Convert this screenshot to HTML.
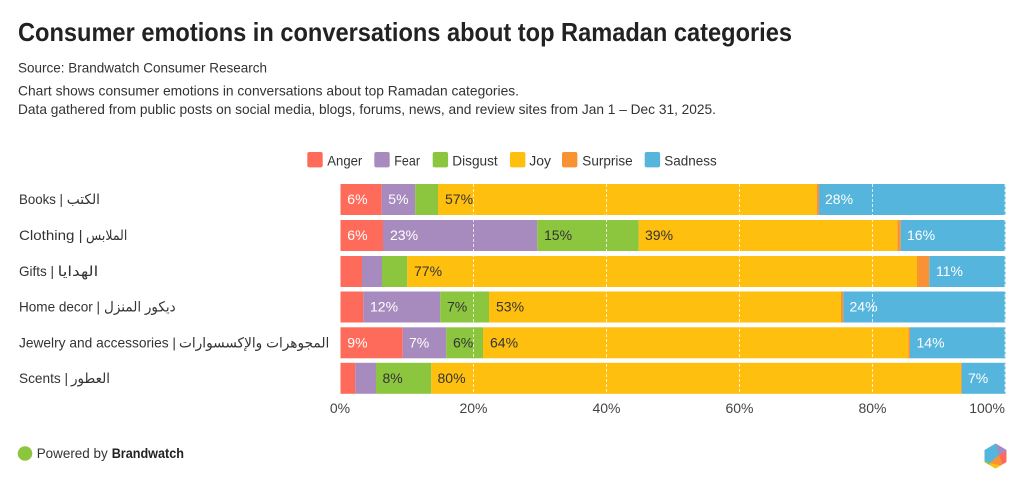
<!DOCTYPE html>
<html>
<head>
<meta charset="utf-8">
<style>
html,body{margin:0;padding:0;background:#fff;}
svg{display:block;}
text{font-family:"Liberation Sans","DejaVu Sans",sans-serif;}
</style>
</head>
<body>
<svg width="1024" height="486" viewBox="0 0 1024 486" xmlns="http://www.w3.org/2000/svg">
<rect width="1024" height="486" fill="#fff"/>
<!-- header -->
<text x="18" y="41" font-size="26" font-weight="bold" fill="#222" textLength="774" lengthAdjust="spacingAndGlyphs">Consumer emotions in conversations about top Ramadan categories</text>
<text x="18" y="72.5" font-size="14" fill="#333" textLength="249" lengthAdjust="spacingAndGlyphs">Source: Brandwatch Consumer Research</text>
<text x="18" y="95.5" font-size="14" fill="#333" textLength="501" lengthAdjust="spacingAndGlyphs">Chart shows consumer emotions in conversations about top Ramadan categories.</text>
<text x="18" y="114" font-size="14" fill="#333" textLength="698" lengthAdjust="spacingAndGlyphs">Data gathered from public posts on social media, blogs, forums, news, and review sites from Jan 1 – Dec 31, 2025.</text>

<!-- legend -->
<g font-size="14" fill="#333">
<rect x="307.3" y="152" width="15.4" height="15.4" rx="2" fill="#FF6B5A"/>
<text x="327.3" y="165.3" textLength="35" lengthAdjust="spacingAndGlyphs">Anger</text>
<rect x="374.3" y="152" width="15.4" height="15.4" rx="2" fill="#A88BBE"/>
<text x="394.3" y="165.3" textLength="25.7" lengthAdjust="spacingAndGlyphs">Fear</text>
<rect x="432.7" y="152" width="15.4" height="15.4" rx="2" fill="#8CC63F"/>
<text x="452.3" y="165.3" textLength="45.4" lengthAdjust="spacingAndGlyphs">Disgust</text>
<rect x="510" y="152" width="15.4" height="15.4" rx="2" fill="#FFBF0F"/>
<text x="529.3" y="165.3" textLength="21.7" lengthAdjust="spacingAndGlyphs">Joy</text>
<rect x="562" y="152" width="15.4" height="15.4" rx="2" fill="#F99233"/>
<text x="582.3" y="165.3" textLength="50.4" lengthAdjust="spacingAndGlyphs">Surprise</text>
<rect x="644.7" y="152" width="15.4" height="15.4" rx="2" fill="#55B5DD"/>
<text x="664.3" y="165.3" textLength="52.4" lengthAdjust="spacingAndGlyphs">Sadness</text>
</g>

<!-- category labels -->
<g font-size="14" fill="#333">
<text x="19" y="204" textLength="44" lengthAdjust="spacingAndGlyphs">Books |</text>
<text x="66.7" y="204" textLength="33.3" lengthAdjust="spacingAndGlyphs">الكتب</text>

<text x="19" y="240" textLength="63.5" lengthAdjust="spacingAndGlyphs">Clothing |</text>
<text x="86" y="240" textLength="41.3" lengthAdjust="spacingAndGlyphs">الملابس</text>

<text x="19" y="276" textLength="35" lengthAdjust="spacingAndGlyphs">Gifts |</text>
<text x="57.7" y="276" textLength="40.6" lengthAdjust="spacingAndGlyphs">الهدايا</text>

<text x="19" y="311.5" textLength="81" lengthAdjust="spacingAndGlyphs">Home decor |</text>
<text x="104" y="311.5" textLength="71.7" lengthAdjust="spacingAndGlyphs">ديكور المنزل</text>

<text x="19" y="347.5" textLength="157" lengthAdjust="spacingAndGlyphs">Jewelry and accessories |</text>
<text x="179" y="347.5" textLength="150.3" lengthAdjust="spacingAndGlyphs">المجوهرات والإكسسوارات</text>

<text x="19" y="383" textLength="49" lengthAdjust="spacingAndGlyphs">Scents |</text>
<text x="71" y="383" textLength="39" lengthAdjust="spacingAndGlyphs">العطور</text>
</g>

<!-- bars -->
<g>
<!-- Row 1 Books -->
<rect x="340.5" y="184" width="41.2" height="31" fill="#FF6B5A"/>
<rect x="381.7" y="184" width="33.6" height="31" fill="#A88BBE"/>
<rect x="415.3" y="184" width="22.7" height="31" fill="#8CC63F"/>
<rect x="438" y="184" width="378.7" height="31" fill="#FFBF0F"/>
<rect x="816.7" y="184" width="2.3" height="31" fill="#F99233"/>
<rect x="819" y="184" width="186.5" height="31" fill="#55B5DD"/>
<!-- Row 2 Clothing -->
<rect x="340.5" y="220" width="42.5" height="31" fill="#FF6B5A"/>
<rect x="383" y="220" width="154.3" height="31" fill="#A88BBE"/>
<rect x="537.3" y="220" width="101.4" height="31" fill="#8CC63F"/>
<rect x="638.7" y="220" width="258.6" height="31" fill="#FFBF0F"/>
<rect x="897.3" y="220" width="3.4" height="31" fill="#F99233"/>
<rect x="900.7" y="220" width="104.8" height="31" fill="#55B5DD"/>
<!-- Row 3 Gifts -->
<rect x="340.5" y="256" width="21.5" height="31" fill="#FF6B5A"/>
<rect x="362" y="256" width="20" height="31" fill="#A88BBE"/>
<rect x="382" y="256" width="25.3" height="31" fill="#8CC63F"/>
<rect x="407.3" y="256" width="509.7" height="31" fill="#FFBF0F"/>
<rect x="917" y="256" width="12.3" height="31" fill="#F99233"/>
<rect x="929.3" y="256" width="76.2" height="31" fill="#55B5DD"/>
<!-- Row 4 Home decor -->
<rect x="340.5" y="291.5" width="22.8" height="31" fill="#FF6B5A"/>
<rect x="363.3" y="291.5" width="77" height="31" fill="#A88BBE"/>
<rect x="440.3" y="291.5" width="48.7" height="31" fill="#8CC63F"/>
<rect x="489" y="291.5" width="352" height="31" fill="#FFBF0F"/>
<rect x="841" y="291.5" width="2.3" height="31" fill="#F99233"/>
<rect x="843.3" y="291.5" width="162.2" height="31" fill="#55B5DD"/>
<!-- Row 5 Jewelry -->
<rect x="340.5" y="327.3" width="62.2" height="31" fill="#FF6B5A"/>
<rect x="402.7" y="327.3" width="43.6" height="31" fill="#A88BBE"/>
<rect x="446.3" y="327.3" width="36.7" height="31" fill="#8CC63F"/>
<rect x="483" y="327.3" width="425.3" height="31" fill="#FFBF0F"/>
<rect x="908.3" y="327.3" width="1.7" height="31" fill="#F99233"/>
<rect x="910" y="327.3" width="95.5" height="31" fill="#55B5DD"/>
<!-- Row 6 Scents -->
<rect x="340.5" y="362.8" width="14.8" height="31" fill="#FF6B5A"/>
<rect x="355.3" y="362.8" width="20.7" height="31" fill="#A88BBE"/>
<rect x="376" y="362.8" width="55.3" height="31" fill="#8CC63F"/>
<rect x="431.3" y="362.8" width="529.7" height="31" fill="#FFBF0F"/>
<rect x="961" y="362.8" width="0.7" height="31" fill="#F99233"/>
<rect x="961.7" y="362.8" width="43.8" height="31" fill="#55B5DD"/>
</g>

<!-- gridlines -->
<g stroke="#ffffff" stroke-width="1" stroke-dasharray="3,2" opacity="0.75">
<line x1="473.5" y1="184" x2="473.5" y2="394"/>
<line x1="606.5" y1="184" x2="606.5" y2="394"/>
<line x1="739.5" y1="184" x2="739.5" y2="394"/>
<line x1="872.5" y1="184" x2="872.5" y2="394"/>
<line x1="1005" y1="184" x2="1005" y2="394"/>
</g>

<!-- value labels -->
<g font-size="14">
<text x="347.3" y="204" fill="#fff">6%</text>
<text x="388.3" y="204" fill="#fff">5%</text>
<text x="445" y="204" fill="#333">57%</text>
<text x="825" y="204" fill="#fff">28%</text>

<text x="347.3" y="240" fill="#fff">6%</text>
<text x="390" y="240" fill="#fff">23%</text>
<text x="544" y="240" fill="#333">15%</text>
<text x="645" y="240" fill="#333">39%</text>
<text x="907" y="240" fill="#fff">16%</text>

<text x="414" y="276" fill="#333">77%</text>
<text x="936" y="276" fill="#fff">11%</text>

<text x="370" y="311.5" fill="#fff">12%</text>
<text x="447" y="311.5" fill="#333">7%</text>
<text x="496" y="311.5" fill="#333">53%</text>
<text x="849.5" y="311.5" fill="#fff">24%</text>

<text x="347.3" y="347.3" fill="#fff">9%</text>
<text x="409" y="347.3" fill="#fff">7%</text>
<text x="453" y="347.3" fill="#333">6%</text>
<text x="490" y="347.3" fill="#333">64%</text>
<text x="916.5" y="347.3" fill="#fff">14%</text>

<text x="382.5" y="382.8" fill="#333">8%</text>
<text x="437.5" y="382.8" fill="#333">80%</text>
<text x="968" y="382.8" fill="#fff">7%</text>
</g>

<!-- axis labels -->
<g font-size="14" fill="#444">
<text x="340" y="413" text-anchor="middle">0%</text>
<text x="473.5" y="413" text-anchor="middle">20%</text>
<text x="606.5" y="413" text-anchor="middle">40%</text>
<text x="739.5" y="413" text-anchor="middle">60%</text>
<text x="872.5" y="413" text-anchor="middle">80%</text>
<text x="1005" y="413" text-anchor="end">100%</text>
</g>

<!-- footer -->
<circle cx="25" cy="453.5" r="7.3" fill="#8CC63F"/>
<text x="36.7" y="458" font-size="14" fill="#333" textLength="71" lengthAdjust="spacingAndGlyphs">Powered by</text>
<text x="111.7" y="458" font-size="14" font-weight="bold" fill="#222" textLength="72.3" lengthAdjust="spacingAndGlyphs">Brandwatch</text>

<!-- logo -->
<defs>
<clipPath id="hex">
<polygon points="995.5,443.5 1006.5,450 1006.5,462 995.5,468.5 984.5,462 984.5,450"/>
</clipPath>
</defs>
<g clip-path="url(#hex)">
<rect x="984" y="443" width="23" height="26" fill="#55B5DD"/>
<polygon points="995.5,443 1007,443 1007,452 999,455" fill="#A88BBE"/>
<polygon points="999,455 1007,451 1007,469 1001,469" fill="#FF6B5A"/>
<polygon points="999,455 1003,466 996,469 990,463" fill="#F99233"/>
<polygon points="990,463 1003,466 1003,470 984,470" fill="#FFBF0F"/>
<polygon points="984,460 990,463 988,470 984,470" fill="#8CC63F"/>
</g>
</svg>
</body>
</html>
